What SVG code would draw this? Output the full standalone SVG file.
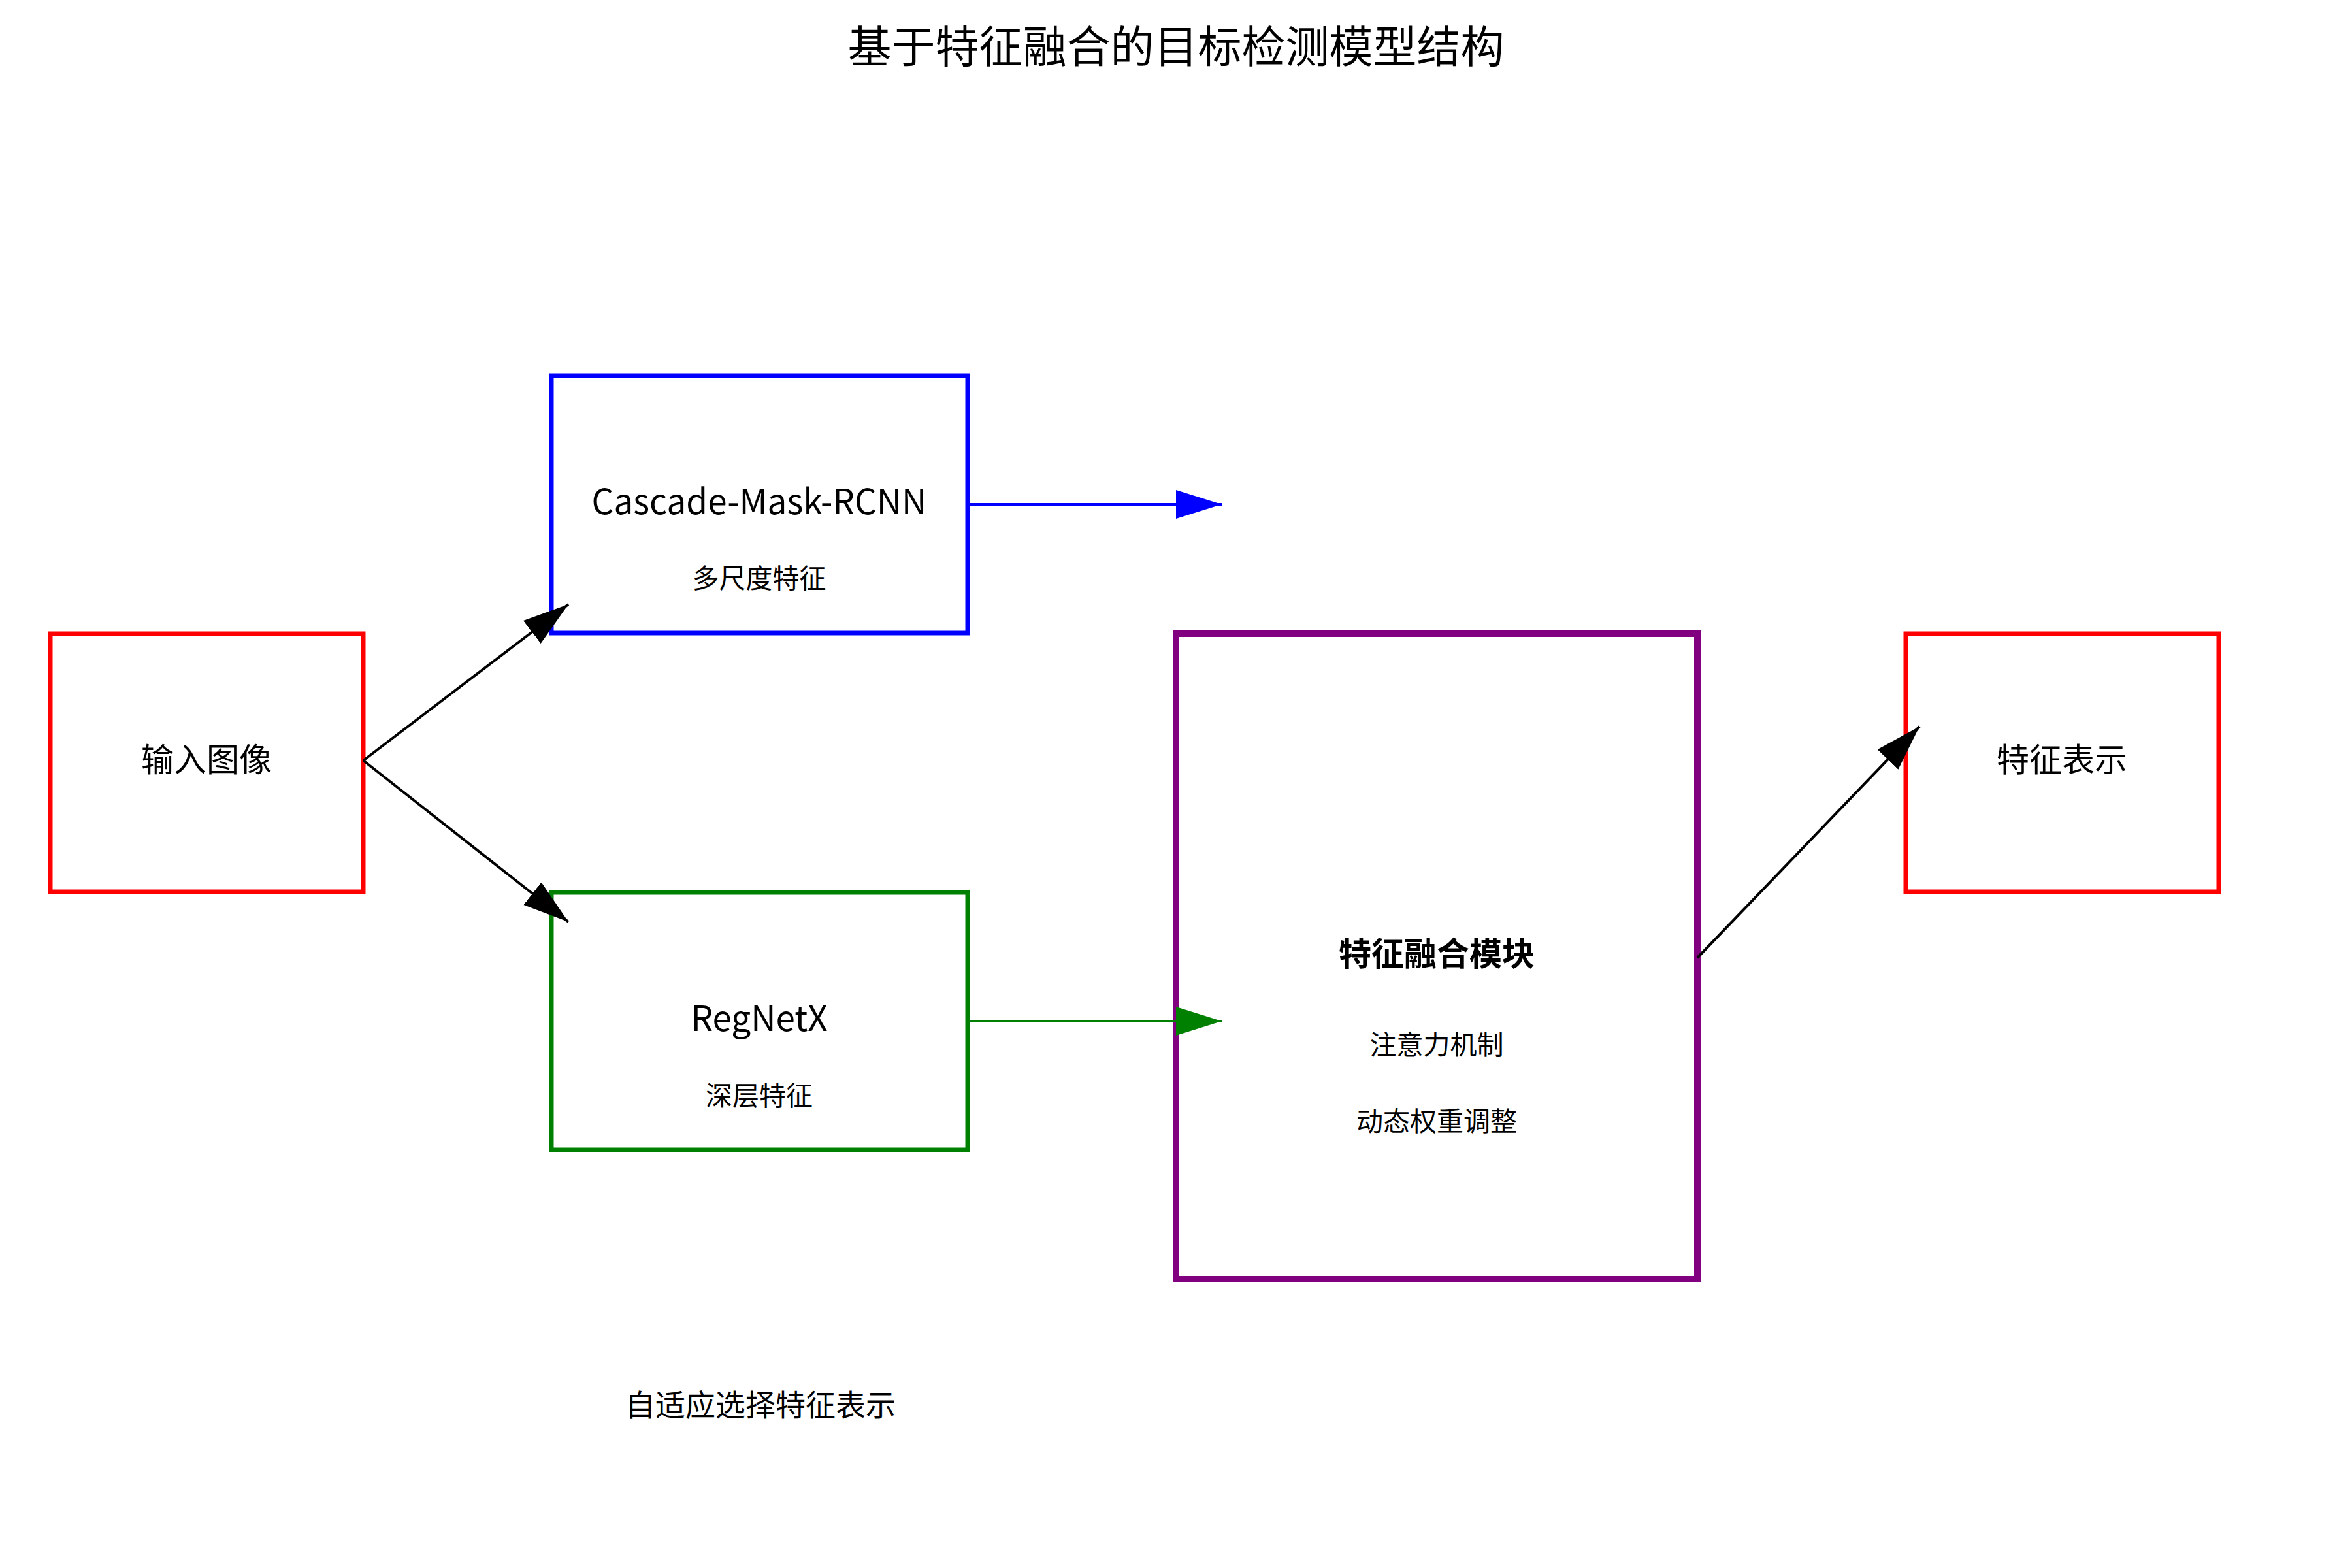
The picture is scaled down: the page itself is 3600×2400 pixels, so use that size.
<svg xmlns="http://www.w3.org/2000/svg" width="3600" height="2400" viewBox="0 0 3600 2400">
<defs>
<style>
text{font-family:"Noto Sans CJK SC","Noto Sans",sans-serif;fill:#000;text-anchor:middle;dominant-baseline:central}
.box{fill:#fff;stroke-width:7}
.title{font-size:67px}
.main{font-size:50px}
.latin{font-size:53px}
.sub{font-size:41px}
.conn{fill:none;stroke-width:4}
</style>
<marker id="ah-black" markerUnits="userSpaceOnUse" markerWidth="72" markerHeight="46" refX="70" refY="22" orient="auto" viewBox="0 0 72 46"><path d="M0,0 L70,22 L0,44 Z" fill="#000"/></marker>
<marker id="ah-blue" markerUnits="userSpaceOnUse" markerWidth="72" markerHeight="46" refX="70" refY="22" orient="auto" viewBox="0 0 72 46"><path d="M0,0 L70,22 L0,44 Z" fill="#0000ff"/></marker>
<marker id="ah-green" markerUnits="userSpaceOnUse" markerWidth="72" markerHeight="46" refX="70" refY="22" orient="auto" viewBox="0 0 72 46"><path d="M0,0 L70,22 L0,44 Z" fill="#008000"/></marker>
</defs>
<rect width="3600" height="2400" fill="#fff"/>
<text class="title" x="1800" y="66">基于特征融合的目标检测模型结构</text>

<g id="input">
<rect class="box" x="77" y="970" width="479" height="395" stroke="#ff0000"/>
<text class="main" x="316" y="1159">输入图像</text>
</g>
<g id="cascade">
<rect class="box" x="844" y="575" width="637" height="394" stroke="#0000ff"/>
<text class="latin" x="1162" y="764">Cascade-Mask-RCNN</text>
<text class="sub" x="1162" y="882">多尺度特征</text>
</g>
<g id="regnetx">
<rect class="box" x="844" y="1366" width="637" height="394" stroke="#008000"/>
<text class="latin" x="1162" y="1555">RegNetX</text>
<text class="sub" x="1162" y="1674">深层特征</text>
</g>
<g id="fusion">
<rect x="1800" y="970" width="798" height="988" fill="#fff" stroke="#800080" stroke-width="10"/>
<text class="main" x="2199" y="1456" font-weight="bold">特征融合模块</text>
<text class="sub" x="2199" y="1596">注意力机制</text>
<text class="sub" x="2199" y="1713">动态权重调整</text>
</g>
<g id="output">
<rect class="box" x="2917" y="970" width="479" height="395" stroke="#ff0000"/>
<text class="main" x="3156" y="1159">特征表示</text>
</g>
<g id="caption">
<text x="1164" y="2147" font-size="46px">自适应选择特征表示</text>
</g>

<g id="connectors">
<path class="conn" d="M556,1164 L870,925" stroke="#000" marker-end="url(#ah-black)"/>
<path class="conn" d="M556,1164 L870,1411" stroke="#000" marker-end="url(#ah-black)"/>
<path class="conn" d="M1482,772 L1870,772" stroke="#0000ff" marker-end="url(#ah-blue)"/>
<path class="conn" d="M1482,1563 L1870,1563" stroke="#008000" marker-end="url(#ah-green)"/>
<path class="conn" d="M2598,1466 L2938,1112" stroke="#000" marker-end="url(#ah-black)"/>
</g>
</svg>
